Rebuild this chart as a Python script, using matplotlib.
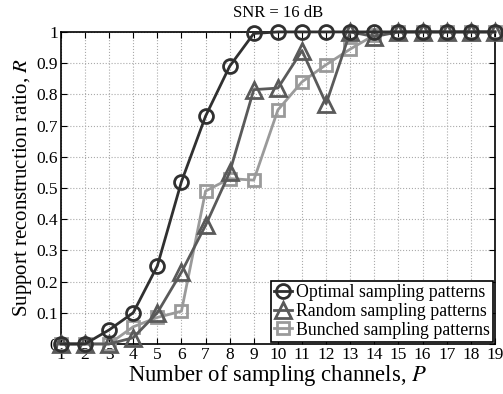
import numpy as np
import matplotlib
matplotlib.use("Agg")
import matplotlib.pyplot as plt

# Data
channels = list(range(1, 20))
optimal = [0, 0, 0.045, 0.10, 0.25, 0.52, 0.73, 0.89, 0.995, 1, 1, 1, 1, 1, 1, 1, 1, 1, 1]
random_p = [0, 0, 0, 0.02, 0.10, 0.23, 0.38, 0.55, 0.815, 0.82, 0.94, 0.77, 1.0, 0.985, 1, 1, 1, 1, 1]
bunched = [0, 0, 0, 0.055, 0.085, 0.105, 0.49, 0.53, 0.525, 0.75, 0.84, 0.895, 0.945, 0.99, 1, 1, 1, 1, 1]

plt.rcParams['font.family'] = ['Liberation Serif', 'DejaVu Serif']
plt.rcParams['mathtext.fontset'] = 'stix'

fig = plt.figure(figsize=(5.03, 3.94), dpi=100)
ax = fig.add_axes([0.121, 0.127, 0.863, 0.792])

ax.plot(channels, optimal, '-o', color='#303030', lw=2, ms=10, mew=2,
        mfc='none', clip_on=False, label='Optimal sampling patterns', zorder=5)
ax.plot(channels, random_p, '-^', color='#5a5a5a', lw=2, ms=11, mew=2,
        mfc='none', clip_on=False, label='Random sampling patterns', zorder=4)
ax.plot(channels, bunched, '-s', color='#9a9a9a', lw=2, ms=9, mew=2,
        mfc='none', clip_on=False, label='Bunched sampling patterns', zorder=3)

ax.set_xlim(1, 19)
ax.set_ylim(0, 1)
ax.set_xticks(channels)
ax.set_yticks(np.arange(0, 1.01, 0.1))
ax.set_yticklabels(['0'] + [f'{v:.1f}' for v in np.arange(0.1, 0.95, 0.1)] + ['1'])
ax.tick_params(direction='in', top=True, right=True, labelsize=12.5, pad=2, length=4)
ax.grid(True, linestyle=':', color='#aaaaaa', lw=0.8)
for s in ax.spines.values():
    s.set_linewidth(1.2)

ax.set_xlabel('Number of sampling channels, $P$', fontsize=16.3, labelpad=0)
ax.set_ylabel('Support reconstruction ratio, $R$', fontsize=15, labelpad=2)
ax.set_title('SNR = 16 dB', fontsize=12, pad=11)

leg = ax.legend(loc='lower right', fontsize=12.8, handlelength=1.0, handletextpad=0.2,
                borderpad=0.2, labelspacing=0.1, borderaxespad=0.1,
                fancybox=False, framealpha=1, edgecolor='black')
leg.get_frame().set_linewidth(1.2)

fig.savefig('out.png', dpi=100)
